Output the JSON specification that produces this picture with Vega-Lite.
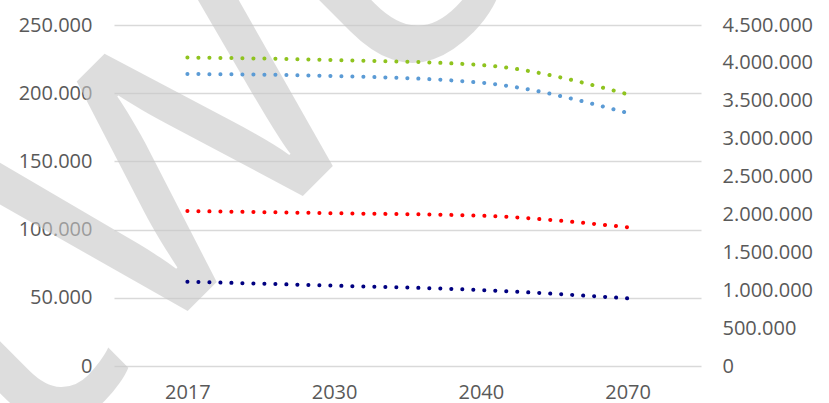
{
  "$schema": "https://vega.github.io/schema/vega-lite/v6.json",
  "width": 587,
  "height": 341,
  "autosize": {"type": "none"},
  "padding": {"left": 114, "top": 25, "right": 128, "bottom": 37},
  "background": "white",
  "config": {
    "locale": {"number": {"decimal": ",", "thousands": ".", "grouping": [3], "currency": ["", " €"]}},
    "view": {"stroke": null},
    "font": "Open Sans",
    "axis": {"labelFont": "Open Sans", "labelFontSize": 20, "labelColor": "#595959", "domain": false, "ticks": false, "title": null},
    "axisX": {"labelAngle": 0, "labelAlign": "center", "labelPadding": 16, "grid": false}
  },
  "datasets": {
    "reihen": [
      {"jahr": "2017", "reihe": "Gesamt A", "wert": 4071000},
      {"jahr": "2030", "reihe": "Gesamt A", "wert": 4038000},
      {"jahr": "2040", "reihe": "Gesamt A", "wert": 3972000},
      {"jahr": "2070", "reihe": "Gesamt A", "wert": 3586000},
      {"jahr": "2017", "reihe": "Gesamt B", "wert": 3853000},
      {"jahr": "2030", "reihe": "Gesamt B", "wert": 3827000},
      {"jahr": "2040", "reihe": "Gesamt B", "wert": 3739000},
      {"jahr": "2070", "reihe": "Gesamt B", "wert": 3339000},
      {"jahr": "2017", "reihe": "Teil A", "wert": 113600},
      {"jahr": "2030", "reihe": "Teil A", "wert": 112000},
      {"jahr": "2040", "reihe": "Teil A", "wert": 110200},
      {"jahr": "2070", "reihe": "Teil A", "wert": 101700},
      {"jahr": "2017", "reihe": "Teil B", "wert": 61800},
      {"jahr": "2030", "reihe": "Teil B", "wert": 58900},
      {"jahr": "2040", "reihe": "Teil B", "wert": 55700},
      {"jahr": "2070", "reihe": "Teil B", "wert": 49600}
    ],
    "wasserzeichen": [{"text": "Entwurf"}]
  },
  "data": {"name": "reihen"},
  "layer": [
    {
      "layer": [
        {
          "data": {"name": "wasserzeichen"},
          "mark": {"type": "text", "font": "Open Sans", "fontSize": 450, "angle": -45, "align": "center", "baseline": "alphabetic", "dx": 66, "color": "#c8c8c8", "opacity": 0.6},
          "encoding": {
            "x": {"datum": "2017", "type": "ordinal", "scale": {"type": "point", "padding": 0.5}, "axis": {"labelAngle": 0, "labelAlign": "center"}},
            "y": {"datum": 39590, "type": "quantitative"},
            "text": {"field": "text", "type": "nominal"}
          }
        },
        {
          "transform": [{"filter": {"field": "reihe", "oneOf": ["Teil A", "Teil B"]}}],
          "mark": {"type": "line", "interpolate": "monotone", "strokeWidth": 4, "strokeCap": "round", "strokeDash": [0.1, 10.9]},
          "encoding": {
            "x": {"field": "jahr", "type": "ordinal", "sort": null, "scale": {"type": "point", "padding": 0.5}, "axis": {"labelAngle": 0, "labelAlign": "center"}},
            "y": {
              "field": "wert", "type": "quantitative",
              "scale": {"domain": [0, 250000], "nice": false, "zero": true},
              "axis": {"orient": "left", "values": [0, 50000, 100000, 150000, 200000, 250000], "format": ",d", "labelPadding": 22, "grid": true, "gridColor": "#d9d9d9", "gridWidth": 1.5}
            },
            "color": {"field": "reihe", "type": "nominal", "legend": null, "scale": {"domain": ["Gesamt A", "Gesamt B", "Teil A", "Teil B"], "range": ["#8fc31f", "#5b9bd5", "#ff0000", "#000080"]}}
          }
        }
      ]
    },
    {
      "transform": [{"filter": {"field": "reihe", "oneOf": ["Gesamt A", "Gesamt B"]}}],
      "mark": {"type": "line", "interpolate": "monotone", "strokeWidth": 4, "strokeCap": "round", "strokeDash": [0.1, 10.9]},
      "encoding": {
        "x": {"field": "jahr", "type": "ordinal", "sort": null, "scale": {"type": "point", "padding": 0.5}, "axis": {"labelAngle": 0, "labelAlign": "center"}},
        "y": {
          "field": "wert", "type": "quantitative",
          "scale": {"domain": [0, 4500000], "nice": false, "zero": true},
          "axis": {"orient": "right", "values": [0, 500000, 1000000, 1500000, 2000000, 2500000, 3000000, 3500000, 4000000, 4500000], "format": ",d", "labelPadding": 21, "grid": false}
        },
        "color": {"field": "reihe", "type": "nominal", "legend": null, "scale": {"domain": ["Gesamt A", "Gesamt B", "Teil A", "Teil B"], "range": ["#8fc31f", "#5b9bd5", "#ff0000", "#000080"]}}
      }
    }
  ],
  "resolve": {"scale": {"y": "independent"}}
}
